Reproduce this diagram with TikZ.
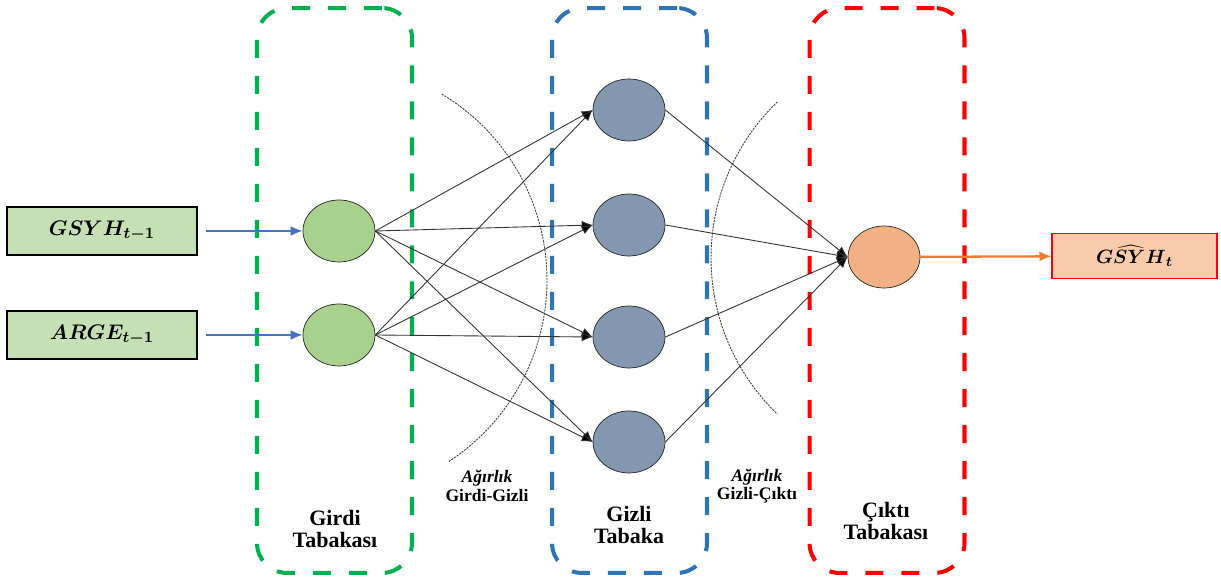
\documentclass[tikz,border=0pt]{standalone}
\usepackage{fontspec}
\setmainfont{Liberation Serif}
\usepackage{bm}
\usepackage{tikz}
\usetikzlibrary{arrows.meta,positioning,shapes.geometric}
\definecolor{boxgreen}{HTML}{C5E0B4}
\definecolor{nodegreen}{HTML}{A9D18E}
\definecolor{nodeblue}{HTML}{8497B0}
\definecolor{nodeorange}{HTML}{F4B183}
\definecolor{boxorange}{HTML}{F8CBAD}
\definecolor{laygreen}{HTML}{00B050}
\definecolor{layblue}{HTML}{2E75B6}
\definecolor{layred}{HTML}{FF0000}
\definecolor{arrblue}{HTML}{4472C4}
\definecolor{arrorange}{HTML}{ED7D31}
\tikzset{
>={Latex[length=2.2mm,width=1.8mm]},
  neuron/.style={
    ellipse,
    draw=black!85, thin,
    minimum width=1.44cm,
    minimum height=1.24cm,
    inner sep=0pt},
  varbox/.style={
    rectangle,
    draw=black, line width=1.2pt,
    fill=boxgreen,
    minimum width=3.8cm,
    minimum height=0.96cm,
    font=\fontsize{12.5}{14}\selectfont},
  layer/.style={
    rectangle,
    rounded corners=0.6cm,
    line width=2.3pt,
    dash pattern=on 0.36cm off 0.36cm,
    minimum width=3.1cm,
    minimum height=11.3cm},
  layertext/.style={align=center, font=\bfseries\fontsize{12.5}{13}\selectfont},
  weighttext/.style={align=center, font=\bfseries\fontsize{10}{10.5}\selectfont},
  link/.style={-{Latex[length=2.2mm,width=1.8mm,fill=black]}, draw=black!80, line width=0.5pt},
  feed/.style={-{Latex[length=2.4mm,width=2mm]}, line width=1.3pt, shorten <=0.16cm},
  arcline/.style={draw=black!75, dash pattern=on 1.2pt off 0.6pt, line width=0.5pt},
}
\begin{document}
\begin{tikzpicture}[x=0.02cm, y=0.02cm]
    \useasboundingbox (0,0) rectangle (1221,578);
    % layers
    \node[layer, draw=laygreen] (inlayer)  at (334.5,287.5) {};
    \node[layer, draw=layblue]  (hidlayer) at (629.5,287.5) {};
    \node[layer, draw=layred]   (outlayer) at (887,287.5) {};
    \node[layertext] (intext)  at (335,49) {Girdi\\Tabakası};
    \node[layertext] (hidtext) at (629,53) {Gizli\\Tabaka};
    \node[layertext] (outtext) at (886,57) {Çıktı\\Tabakası};
    % weights
    \draw[arcline] (330,298) ++(59:4.34cm) arc[start angle=59, end angle=-57, radius=4.34cm];
    \draw[arcline] (928,320) ++(134:4.34cm) arc[start angle=134, end angle=226, radius=4.34cm];
    \node[weighttext] (wih) at (487,92) {\textit{Ağırlık}\\Girdi-Gizli};
    \node[weighttext] (who) at (757,92) {\textit{Ağırlık}\\Gizli-Çıktı};
    % neurons
    \node[varbox] (gsyh) at (102,347) {$\bm{GSYH_{t-1}}$};
    \node[varbox] (arge) at (102,243) {$\bm{ARGE_{t-1}}$};
    \node[neuron, fill=nodegreen] (i1) at (339,347) {};
    \node[neuron, fill=nodegreen] (i2) at (339,243) {};
    \foreach \n/\y in {1/468, 2/353, 3/241, 4/136}
        \node[neuron, fill=nodeblue] (h\n) at (629,\y) {};
    \node[neuron, fill=nodeorange] (o) at (884,321) {};
    \node[varbox, draw=red, line width=0.6pt, fill=boxorange,
          minimum width=3.3cm, minimum height=0.9cm,
          font=\fontsize{11}{12}\selectfont] (pred) at (1134.5,322) {$\bm{\widehat{GSYH}_t}$};
    \draw[feed, arrblue] (gsyh) -- (i1);
    \draw[feed, arrblue] (arge) -- (i2);
    \draw[feed, arrorange, shorten <=0pt] (o) -- (pred);
    \foreach \i in {1,2}
        \foreach \n in {1,...,4}
            \draw[link] (i\i.east) -- (h\n.west);
    \foreach \n in {1,...,4}
        \draw[link] (h\n.east) -- (o.west);
\end{tikzpicture}
\end{document}
